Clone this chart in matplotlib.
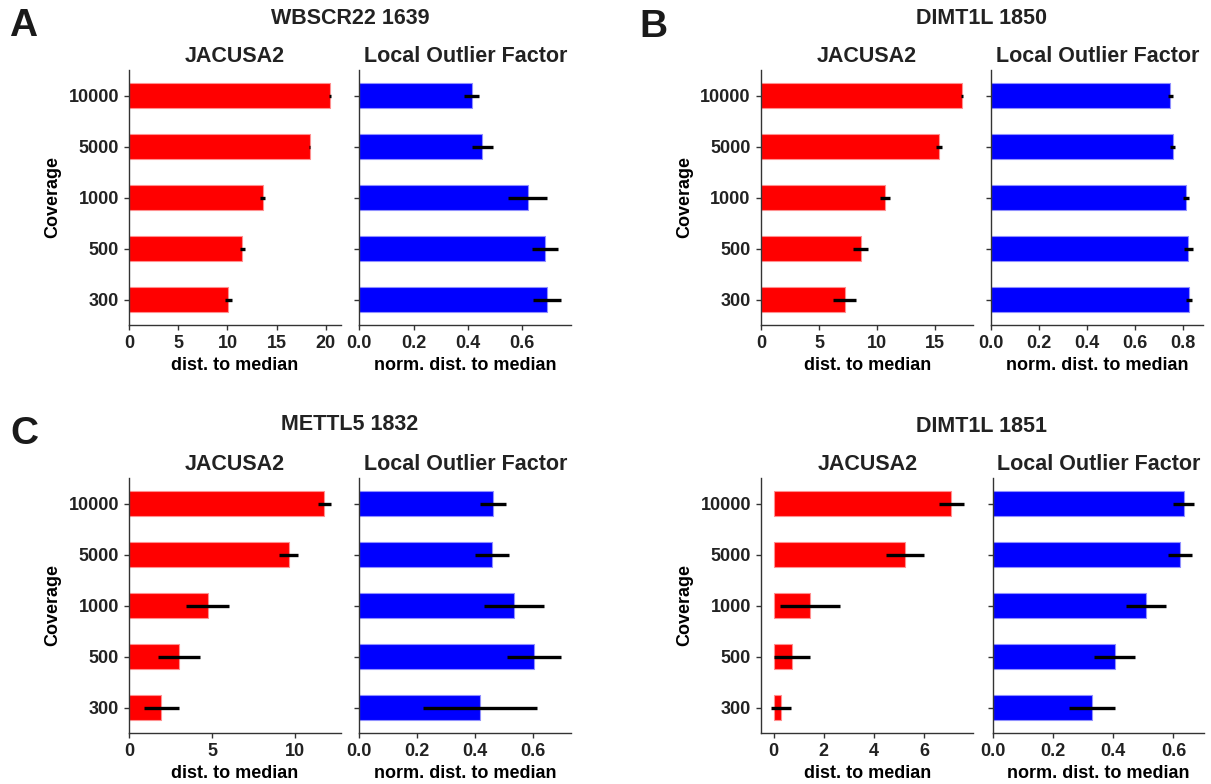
import matplotlib
matplotlib.use("Agg")
import matplotlib.pyplot as plt

plt.rcParams['font.family'] = ['Liberation Sans', 'DejaVu Sans']
plt.rcParams['font.weight'] = 'bold'
plt.rcParams['text.color'] = '#222222'

coverage = ['300', '500', '1000', '5000', '10000']

panel_titles = ['WBSCR22 1639', 'DIMT1L 1850', 'METTL5 1832', 'DIMT1L 1851']
panel_letters = ['A', 'B', 'C', '']
method_titles = ['JACUSA2', 'Local Outlier Factor']
xlabels = ['dist. to median', 'norm. dist. to median']

A_jac = [10.1, 11.52, 13.6, 18.36, 20.43]
A_jac_err = [0.33, 0.27, 0.25, 0.08, 0.08]
A_lof = [0.692, 0.687, 0.621, 0.454, 0.414]
A_lof_err = [0.052, 0.048, 0.072, 0.038, 0.026]

B_jac = [7.19, 8.57, 10.66, 15.33, 17.31]
B_jac_err = [1.0, 0.62, 0.44, 0.23, 0.1]
B_lof = [0.824, 0.821, 0.81, 0.756, 0.746]
B_lof_err = [0.011, 0.02, 0.012, 0.011, 0.01]

C_jac = [1.94, 3.0, 4.72, 9.61, 11.76]
C_jac_err = [1.05, 1.25, 1.31, 0.57, 0.39]
C_lof = [0.419, 0.605, 0.535, 0.46, 0.463]
C_lof_err = [0.197, 0.093, 0.105, 0.058, 0.045]

D_jac = [0.3, 0.73, 1.45, 5.25, 7.09]
D_jac_err = [0.41, 0.7, 1.18, 0.76, 0.49]
D_lof = [0.329, 0.405, 0.508, 0.623, 0.634]
D_lof_err = [0.077, 0.068, 0.066, 0.04, 0.034]

A_jac_ticks = [0, 5, 10, 15, 20]
B_jac_ticks = [0, 5, 10, 15]
C_jac_ticks = [0, 5, 10]
D_jac_ticks = [0, 2, 4, 6]
A_lof_ticks = [0.0, 0.2, 0.4, 0.6]
B_lof_ticks = [0.0, 0.2, 0.4, 0.6, 0.8]
C_lof_ticks = [0.0, 0.2, 0.4, 0.6]
D_lof_ticks = [0.0, 0.2, 0.4, 0.6]

panels = [
    (A_jac, A_jac_err, A_jac_ticks, A_lof, A_lof_err, A_lof_ticks),
    (B_jac, B_jac_err, B_jac_ticks, B_lof, B_lof_err, B_lof_ticks),
    (C_jac, C_jac_err, C_jac_ticks, C_lof, C_lof_err, C_lof_ticks),
    (D_jac, D_jac_err, D_jac_ticks, D_lof, D_lof_err, D_lof_ticks),
]

W, H = 1211, 784
fig = plt.figure(figsize=(W / 100, H / 100), dpi=100)

# pixel layout: (jac_left, jac_right, lof_left, lof_right, top, bottom)
layout = [
    (129.3, 340.7, 359.4, 571.0, 70, 325),
    (761.0, 973.3, 991.3, 1203.3, 70, 325),
    (129.3, 340.7, 359.4, 571.0, 478, 733),
    (761.3, 973.3, 992.7, 1204.0, 478, 733),
]
title_pos = [(350, 19), (982, 19), (350, 425), (982, 426)]
letter_pos = [(9, 8), (639, 9), (10, 416), (0, 0)]

def ax_at(l, r, t, b):
    return fig.add_axes([l / W, 1 - b / H, (r - l) / W, (b - t) / H])

spine_col = '#333333'
ypos = list(range(len(coverage)))

for i, (jv, je, jt, lv, le, lt) in enumerate(panels):
    jl, jr, ll, lr, t, b = layout[i]
    axj = ax_at(jl, jr, t, b)
    axl = ax_at(ll, lr, t, b)
    for k, (ax, vals, errs, ticks, col, edge) in enumerate([
            (axj, jv, je, jt, '#ff0000', '#ff9090'),
            (axl, lv, le, lt, '#0000ff', '#9090ff')]):
        ax.barh(ypos, vals, height=0.5, xerr=errs, color=col,
                edgecolor=edge, linewidth=0.8,
                error_kw=dict(ecolor='black', elinewidth=2.4, capsize=0))
        ax.set_ylim(-0.5, 4.5)
        ax.set_yticks(ypos)
        ax.set_xticks(ticks)
        if k == 0:
            ax.set_xticklabels([str(v) for v in ticks])
            ax.set_yticklabels(coverage)
            ax.set_ylabel('Coverage', fontsize=13, fontweight='bold', labelpad=5)
        else:
            ax.set_xticklabels(['%.1f' % v for v in ticks])
            ax.set_yticklabels([])
        for s in ['top', 'right']:
            ax.spines[s].set_visible(False)
        for s in ['left', 'bottom']:
            ax.spines[s].set_color(spine_col)
            ax.spines[s].set_linewidth(1.0)
        ax.tick_params(axis='both', labelsize=13, length=3.5, width=1,
                       color=spine_col, labelcolor='#222222', pad=4)
        ax.set_xlabel(xlabels[k], fontsize=13, fontweight='bold', labelpad=3)
        ax.set_title(method_titles[k], fontsize=15.5, fontweight='bold', pad=6)
    tx, ty = title_pos[i]
    fig.text(tx / W, 1 - ty / H, panel_titles[i], fontsize=15.5,
             fontweight='bold', ha='center', va='center')
    if panel_letters[i]:
        lx, ly = letter_pos[i]
        fig.text(lx / W, 1 - ly / H, panel_letters[i], fontsize=28,
                 fontweight='bold', ha='left', va='top', color='#1a1a1a')

fig.savefig('out.png', dpi=100, facecolor='white')
